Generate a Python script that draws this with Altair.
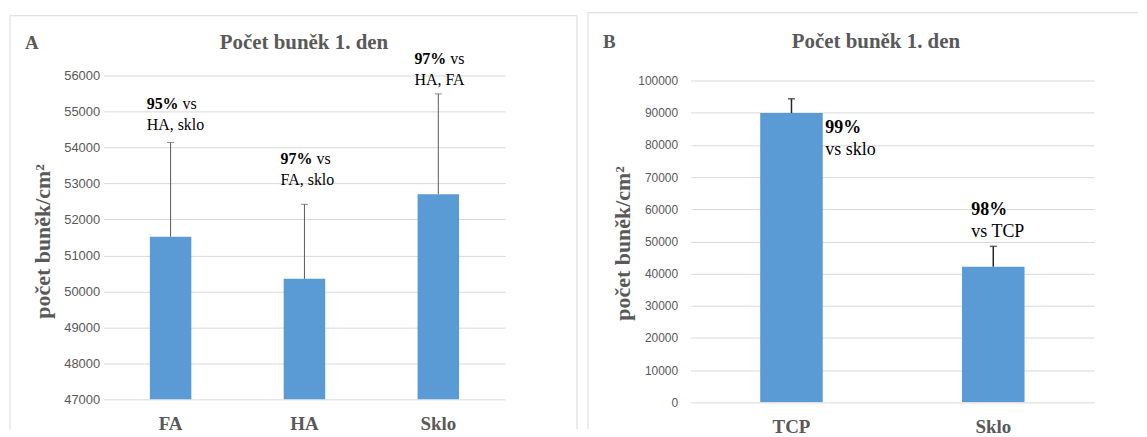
import altair as alt
import pandas as pd

# ---- Panel A data ----
cats_a = ["FA", "HA", "Sklo"]
vals_a = [51520, 50350, 52700]
err_a = [2620, 2070, 2790]
ann_a_bold = ["95%", "97%", "97%"]
ann_a_rest = ["vs", "vs", "vs"]
ann_a_line2 = ["HA, sklo", "FA, sklo", "HA, FA"]
ann_a_y = [55200, 53670, 56470]
ann_a_dx = [-24, -24, -24]
ticks_a = [47000, 48000, 49000, 50000, 51000, 52000, 53000, 54000, 55000, 56000]

# ---- Panel B data ----
cats_b = ["TCP", "Sklo"]
vals_b = [89900, 42150]
err_b = [4430, 6320]
ann_b_bold = ["99%", "98%"]
ann_b_line2 = ["vs sklo", "vs TCP"]
ann_b_y = [85130, 59720]
ann_b_dx = [34, -22]
ticks_b = [0, 10000, 20000, 30000, 40000, 50000, 60000, 70000, 80000, 90000, 100000]

title_text = "Počet buněk 1. den"
ytitle = "počet buněk/cm²"

BAR = "#5b9bd5"
GREY = "#595959"
GRID = "#d9d9d9"
SERIF = "Liberation Serif"
SANS = "Liberation Sans"

df_a = pd.DataFrame({"cat": cats_a, "val": vals_a,
                     "hi": [v + e for v, e in zip(vals_a, err_a)],
                     "bold": ann_a_bold, "rest": ann_a_rest,
                     "line2": ann_a_line2, "ann_y": ann_a_y})
df_b = pd.DataFrame({"cat": cats_b, "val": vals_b,
                     "hi": [v + e for v, e in zip(vals_b, err_b)],
                     "bold": ann_b_bold, "line2": ann_b_line2, "ann_y": ann_b_y})


def frame_layers(src, left, right, top, bottom, draw_right):
    base = alt.Chart(src)
    layers = [
        base.mark_rule(color=GRID, strokeWidth=1).encode(
            x=alt.value(left), x2=alt.value(right), y=alt.value(top)),
        base.mark_rule(color=GRID, strokeWidth=1).encode(
            x=alt.value(left), y=alt.value(top), y2=alt.value(bottom)),
    ]
    if draw_right:
        layers.append(base.mark_rule(color=GRID, strokeWidth=1).encode(
            x=alt.value(right), y=alt.value(top), y2=alt.value(bottom)))
    return layers


def panel(df, cats, dxs, domain, ticks, W, H, tick_font, label_pad, title_x, title_y,
          err_color, err_w, ann_size, line_gap, has_rest, letter,
          letter_x, letter_y, title_cx, title_cy, frame):
    xscale = alt.Scale(paddingInner=0.69, paddingOuter=0.345)
    xaxis = alt.Axis(title=None, labelAngle=0, labelFont=SERIF,
                     labelFontWeight="bold", labelFontSize=19,
                     labelColor=GREY, ticks=False, domain=False,
                     labelPadding=15)
    yscale = alt.Scale(domain=domain, nice=False, zero=False)
    yaxis = alt.Axis(values=ticks, format="d", grid=True, gridColor=GRID,
                     domain=False, ticks=False, labelFont=SANS,
                     labelFontSize=tick_font, labelColor=GREY,
                     labelPadding=label_pad, labelOverlap=False, title=ytitle,
                     titleFont=SERIF, titleFontSize=22,
                     titleFontWeight="bold", titleColor=GREY,
                     titleAngle=270, titleX=title_x, titleY=title_y,
                     titleAlign="center", titleBaseline="middle")

    def X():
        return alt.X("cat:N", sort=cats, scale=xscale, axis=xaxis)

    def Y(f):
        return alt.Y(f, scale=yscale, axis=yaxis)

    base = alt.Chart(df)
    src1 = pd.DataFrame({"t": [letter], "title": [title_text]})
    layers = frame_layers(src1, *frame)
    layers.append(base.mark_bar(color=BAR, clip=True).encode(x=X(), y=Y("val:Q")))
    layers.append(base.mark_rule(color=err_color, strokeWidth=err_w).encode(
        x=X(), y=Y("val:Q"), y2="hi:Q"))
    layers.append(base.mark_tick(color=err_color, thickness=err_w, size=7).encode(
        x=X(), y=Y("hi:Q")))
    for i, c in enumerate(cats):
        sub = base.transform_filter(alt.datum.cat == c)
        layers.append(sub.mark_text(align="left", baseline="middle", dx=dxs[i],
                                    font=SERIF, fontWeight="bold", fontSize=ann_size,
                                    color="black").encode(
            x=X(), y=Y("ann_y:Q"), text="bold:N"))
        layers.append(sub.mark_text(align="left", baseline="middle", dx=dxs[i],
                                    dy=line_gap, font=SERIF, fontSize=ann_size,
                                    color="black").encode(
            x=X(), y=Y("ann_y:Q"), text="line2:N"))
        if has_rest:
            layers.append(sub.mark_text(align="left", baseline="middle",
                                        dx=dxs[i] + 36, font=SERIF,
                                        fontSize=ann_size, color="black").encode(
                x=X(), y=Y("ann_y:Q"), text="rest:N"))
    layers.append(alt.Chart(src1).mark_text(
        align="left", baseline="middle", font=SERIF, fontWeight="bold",
        fontSize=19, color=GREY).encode(
        x=alt.value(letter_x), y=alt.value(letter_y), text="t:N"))
    layers.append(alt.Chart(src1).mark_text(
        align="center", baseline="middle", font=SERIF, fontWeight="bold",
        fontSize=21, color=GREY).encode(
        x=alt.value(title_cx), y=alt.value(title_cy), text="title:N"))
    return alt.layer(*layers).properties(width=W, height=H)


pa = panel(df_a, cats_a, ann_a_dx, [47000, 56000], ticks_a, 403, 325, 13, 4, -61, 166,
           GREY, 1, 16, 21, True, "A", -79, -33, 201, -33,
           (-94, 475, -60, 355, True))
pb = panel(df_b, cats_b, ann_b_dx, [0, 101550], ticks_b, 405, 328, 12, 13, -68, 168,
           "#262626", 1.5, 18, 22, False, "B", -88, -34, 186, -34,
           (-103, 449, -63, 355, False))

chart = alt.hconcat(pa, pb, spacing=9).properties(
    padding={"left": 1, "top": 3, "right": 0, "bottom": 0},
    background="white",
).configure_view(strokeWidth=0)

chart.save("out.html", embed_options={"renderer": "svg", "actions": False})
